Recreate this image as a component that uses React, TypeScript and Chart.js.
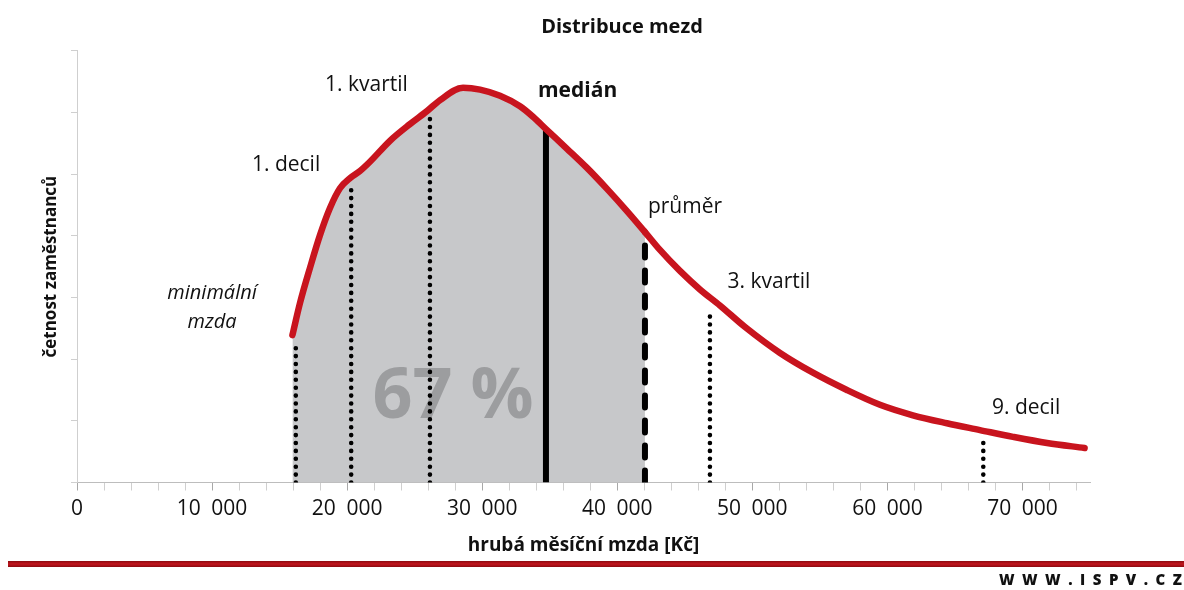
import React, { useEffect, useRef } from "react";
import { Chart, registerables } from "chart.js";

Chart.register(...registerables);

// ---------- text ----------
const chartTitle = "Distribuce mezd";
const xAxisTitle = "hrubá měsíční mzda [Kč]";
const yAxisTitle = "četnost zaměstnanců";
const siteText = "WWW.ISPV.CZ";
const xTickLabels = ["0", "10\u2002000", "20\u2002000", "30\u2002000", "40\u2002000", "50\u2002000", "60\u2002000", "70\u2002000"];
const xMinorStep = 2000;
const xMajorStep = 10000;

// ---------- distribution curve (Kč, relative frequency) ----------
const wageX = [
  15950, 16510, 17250, 17990, 18730, 19470, 20250, 20950, 21690, 23170,
  24650, 25910, 26880, 28580, 29840, 31320, 32800, 33760, 34720, 36280,
  37760, 39240, 40720, 42050, 43160, 44640, 46120, 47600, 49460, 52050,
  54490, 57000, 59450, 61890, 64410, 66850, 69300, 71820, 74600,
];
const frequency = [
  2.39, 2.91, 3.48, 4.01, 4.45, 4.77, 4.94, 5.05, 5.20, 5.54,
  5.81, 6.02, 6.20, 6.40, 6.37, 6.27, 6.10, 5.93, 5.73, 5.41,
  5.10, 4.76, 4.40, 4.06, 3.77, 3.43, 3.13, 2.87, 2.52, 2.10,
  1.78, 1.50, 1.26, 1.09, 0.96, 0.85, 0.74, 0.64, 0.56,
];

// ---------- markers ----------
const markerNames = ["minimální mzda", "1. decil", "1. kvartil", "medián", "průměr", "3. kvartil", "9. decil"];
const markerWage = [16200, 20300, 26130, 34720, 42050, 46860, 67100];
const markerTop = [2.23, 4.77, 5.95, 5.70, 3.85, 2.76, 0.69];

// ---------- annotation texts (anchored in data units) ----------
const labelTexts = ["minimální", "mzda", "1. decil", "1. kvartil", "medián", "průměr", "3. kvartil", "9. decil"];
const labelX = [10000, 10000, 12950, 18360, 34130, 42270, 48160, 67740];
const labelY = [3.07, 2.6, 5.15, 6.44, 6.35, 4.47, 3.25, 1.21];
const shareText = "67 %";
const shareX = 27840;
const shareY = 1.37;

const FONT = "'Open Sans', 'DejaVu Sans', sans-serif";
const FILL_GREY = "#c7c8ca";
const CURVE_RED = "#c8141e";

export default function App() {
  const canvasRef = useRef<HTMLCanvasElement | null>(null);

  useEffect(() => {
    document.body.style.margin = "0";
    const canvas = canvasRef.current;
    if (!canvas) return;

    const meanWage = markerWage[markerNames.indexOf("průměr")];

    const curveDataset: any = {
      type: "line",
      label: "četnost",
      data: wageX.map((x, i) => ({ x, y: frequency[i] })),
      borderColor: CURVE_RED,
      borderWidth: 6.5,
      borderCapStyle: "round",
      borderJoinStyle: "round",
      cubicInterpolationMode: "monotone",
      pointRadius: 0,
      pointHoverRadius: 0,
      fill: "origin",
      backgroundColor: "rgba(0,0,0,0)",
      segment: {
        backgroundColor: (ctx: any) =>
          ctx.p1.parsed.x <= meanWage + 1 ? FILL_GREY : "rgba(0,0,0,0)",
      },
      order: 0,
    };

    const markerDatasets: any[] = markerNames.map((name, i) => {
      const kind = name === "medián" ? "solid" : name === "průměr" ? "dash" : "dot";
      return {
        type: "line",
        label: name,
        data: [
          { x: markerWage[i], y: 0 },
          { x: markerWage[i], y: markerTop[i] },
        ],
        borderColor: "#000",
        borderWidth: kind === "dot" ? 4.6 : 6,
        borderDash: kind === "dot" ? [0, 7.9] : kind === "dash" ? [12, 13] : [],
        borderCapStyle: kind === "solid" ? "butt" : "round",
        pointRadius: 0,
        pointHoverRadius: 0,
        fill: false,
        tension: 0,
        order: 1,
      };
    });

    const annotationPlugin = {
      id: "wageAnnotations",
      beforeDatasetsDraw(chart: any) {
        const { ctx, scales } = chart;
        ctx.save();
        ctx.font = `bold 70px ${FONT}`;
        ctx.fillStyle = "#9c9d9f";
        ctx.textAlign = "center";
        ctx.textBaseline = "middle";
        ctx.fillText(shareText, scales.x.getPixelForValue(shareX), scales.y.getPixelForValue(shareY));
        ctx.restore();
      },
      afterDatasetsDraw(chart: any) {
        const { ctx, scales } = chart;
        ctx.save();
        ctx.fillStyle = "#111";
        ctx.textBaseline = "middle";
        labelTexts.forEach((t, i) => {
          const italic = t === "minimální" || t === "mzda";
          const bold = t === "medián";
          ctx.font = italic
            ? `italic 20px ${FONT}`
            : bold
            ? `bold 21px ${FONT}`
            : `21px ${FONT}`;
          ctx.textAlign = italic ? "center" : "left";
          ctx.fillText(t, scales.x.getPixelForValue(labelX[i]), scales.y.getPixelForValue(labelY[i]));
        });
        ctx.restore();
      },
      afterDraw(chart: any) {
        const { ctx, width, height } = chart;
        ctx.save();
        const ruleY = height - 26;
        const g = ctx.createLinearGradient(0, ruleY - 3, 0, ruleY + 3);
        g.addColorStop(0, "#8c0b10");
        g.addColorStop(0.5, "#c3161e");
        g.addColorStop(1, "#8c0b10");
        ctx.fillStyle = g;
        ctx.fillRect(8, ruleY - 3, width - 8, 6);
        ctx.fillStyle = "#111";
        ctx.font = `800 15px ${FONT}`;
        (ctx as any).letterSpacing = "7.5px";
        ctx.textAlign = "right";
        ctx.textBaseline = "middle";
        ctx.fillText(siteText, width + 5.5, height - 9);
        ctx.restore();
      },
    };

    const chart = new Chart(canvas, {
      type: "line",
      data: { datasets: [curveDataset, ...markerDatasets] },
      options: {
        responsive: false,
        animation: false,
        events: [],
        layout: { padding: { left: 60, right: 0, top: 0, bottom: 27.5 } },
        plugins: {
          legend: { display: false },
          tooltip: { enabled: false },
          filler: { drawTime: "beforeDatasetsDraw", propagate: false },
          title: {
            display: true,
            text: chartTitle,
            color: "#111",
            font: { family: FONT, size: 20, weight: "bold" },
            padding: { top: 15, bottom: 11.7 },
          },
        },
        scales: {
          x: {
            type: "linear",
            min: 0,
            max: 75000,
            afterBuildTicks: (s: any) => {
              const ticks: any[] = [];
              for (let v = 0; v < s.max; v += xMinorStep) ticks.push({ value: v });
              s.ticks = ticks;
            },
            afterFit: (s: any) => {
              s.height = 80;
            },
            border: { color: "#bdbdbd", width: 1 },
            grid: {
              drawOnChartArea: false,
              drawTicks: true,
              tickLength: 8,
              tickWidth: 1,
              tickColor: (c: any) =>
                c.tick && Math.round(c.tick.value) % xMajorStep === 0 ? "#a8a8a8" : "#cfcfcf",
            },
            ticks: {
              autoSkip: false,
              maxRotation: 0,
              padding: 6,
              color: "#111",
              font: { family: FONT, size: 21 },
              callback: (v: any) => {
                const n = Math.round(Number(v));
                return n % xMajorStep === 0 ? xTickLabels[n / xMajorStep] ?? "" : "";
              },
            },
            title: {
              display: true,
              text: xAxisTitle,
              color: "#111",
              font: { family: FONT, size: 19, weight: "bold" },
              padding: { top: 0, bottom: 5.7 },
            },
          },
          y: {
            type: "linear",
            min: 0,
            max: 7,
            afterFit: (s: any) => {
              s.width = 17;
            },
            border: { color: "#cfcfcf", width: 1 },
            grid: { drawOnChartArea: false, drawTicks: true, tickLength: 6, color: "#cfcfcf" },
            ticks: { stepSize: 1, display: false },
            title: {
              display: true,
              text: yAxisTitle,
              color: "#111",
              font: { family: FONT, size: 17, weight: "bold" },
              padding: { top: -19, bottom: 0 },
            },
          },
          yRight: {
            type: "linear",
            position: "right",
            min: 0,
            max: 1,
            afterFit: (s: any) => {
              s.width = 94;
            },
            grid: { display: false, drawTicks: false },
            border: { display: false },
            ticks: { display: false },
          },
        },
      } as any,
      plugins: [annotationPlugin],
    });

    return () => chart.destroy();
  }, []);

  return (
    <div style={{ width: 1184, height: 590 }}>
      <canvas ref={canvasRef} width={1184} height={590} style={{ display: "block" }} />
    </div>
  );
}
